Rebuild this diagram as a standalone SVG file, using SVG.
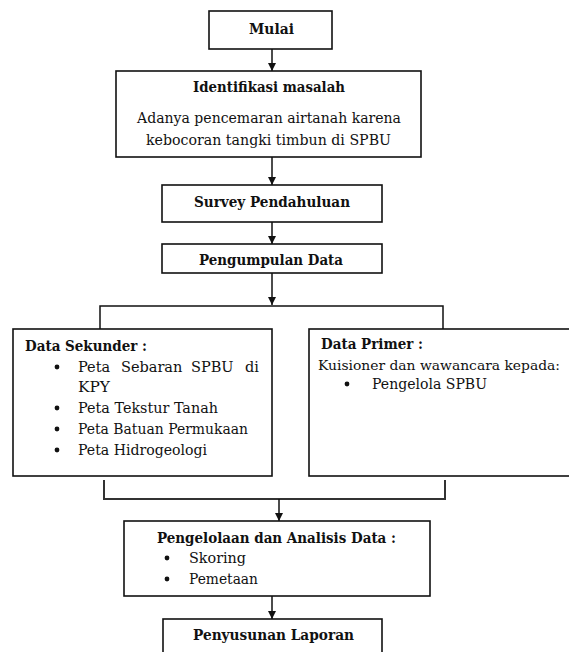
<svg xmlns="http://www.w3.org/2000/svg" width="569" height="652" viewBox="0 0 569 652">
<defs>
<style>
.box{fill:#fff;stroke:#111;stroke-width:1.6}
.ln{fill:none;stroke:#111;stroke-width:1.5}
.t{font-family:"DejaVu Serif","Liberation Serif",serif;font-size:14.5px;fill:#111}
.b{font-weight:bold}
.dot{fill:#111}
</style>
<marker id="ah" viewBox="0 0 10 10" refX="10" refY="5" markerWidth="8" markerHeight="8" markerUnits="userSpaceOnUse" orient="auto">
<path d="M0,0 L10,5 L0,10 z" fill="#111"/>
</marker>
</defs>
<rect width="569" height="652" fill="#fff"/>
<g id="connectors">
<line class="ln" x1="272" y1="49" x2="272" y2="71" marker-end="url(#ah)"/>
<line class="ln" x1="272" y1="157" x2="272" y2="185" marker-end="url(#ah)"/>
<line class="ln" x1="272" y1="222" x2="272" y2="244" marker-end="url(#ah)"/>
<line class="ln" x1="272" y1="273" x2="272" y2="305" marker-end="url(#ah)"/>
<polyline class="ln" points="100,329 100,306 443,306 443,329"/>
<polyline class="ln" points="104,480 104,499 445,499 445,480" style="stroke:#333;stroke-width:2"/>
<line class="ln" x1="279" y1="499" x2="279" y2="521" marker-end="url(#ah)"/>
<line class="ln" x1="272" y1="596" x2="272" y2="619" marker-end="url(#ah)"/>
</g>
<g id="mulai">
<rect class="box" x="209" y="11" width="123" height="38"/>
<text class="t b" x="249" y="34" textLength="45" lengthAdjust="spacingAndGlyphs">Mulai</text>
</g>
<g id="identifikasi">
<rect class="box" x="116" y="71" width="305" height="86"/>
<text class="t b" x="193" y="92" textLength="152" lengthAdjust="spacingAndGlyphs">Identifikasi masalah</text>
<text class="t" x="137" y="123" textLength="264" lengthAdjust="spacingAndGlyphs">Adanya pencemaran airtanah karena</text>
<text class="t" x="146" y="145" textLength="245" lengthAdjust="spacingAndGlyphs">kebocoran tangki timbun di SPBU</text>
</g>
<g id="survey">
<rect class="box" x="162" y="185" width="220" height="37"/>
<text class="t b" x="194" y="207" textLength="156" lengthAdjust="spacingAndGlyphs">Survey Pendahuluan</text>
</g>
<g id="pengumpulan">
<rect class="box" x="162" y="244" width="220" height="29"/>
<text class="t b" x="199" y="265" textLength="144" lengthAdjust="spacingAndGlyphs">Pengumpulan Data</text>
</g>
<g id="sekunder">
<rect class="box" x="13" y="329" width="259" height="147"/>
<text class="t b" x="25" y="351" textLength="122" lengthAdjust="spacingAndGlyphs">Data Sekunder :</text>
<circle class="dot" cx="57" cy="367" r="2.4"/>
<text class="t"><tspan x="78" y="372">Peta</tspan><tspan x="121" y="372">Sebaran</tspan><tspan x="191" y="372">SPBU</tspan><tspan x="245" y="372">di</tspan></text>
<text class="t" x="78" y="392" textLength="32" lengthAdjust="spacingAndGlyphs">KPY</text>
<circle class="dot" cx="57" cy="408" r="2.4"/>
<text class="t" x="78" y="413" textLength="140" lengthAdjust="spacingAndGlyphs">Peta Tekstur Tanah</text>
<circle class="dot" cx="57" cy="429" r="2.4"/>
<text class="t" x="78" y="434" textLength="170" lengthAdjust="spacingAndGlyphs">Peta Batuan Permukaan</text>
<circle class="dot" cx="57" cy="450" r="2.4"/>
<text class="t" x="78" y="455" textLength="129" lengthAdjust="spacingAndGlyphs">Peta Hidrogeologi</text>
</g>
<g id="primer">
<rect class="box" x="309" y="329" width="275" height="147"/>
<text class="t b" x="321" y="349" textLength="102" lengthAdjust="spacingAndGlyphs">Data Primer :</text>
<text class="t" x="318" y="370" style="font-size:12.5px" textLength="242" lengthAdjust="spacingAndGlyphs">Kuisioner dan wawancara kepada:</text>
<circle class="dot" cx="347" cy="384" r="2.4"/>
<text class="t" x="372" y="389" textLength="115" lengthAdjust="spacingAndGlyphs">Pengelola SPBU</text>
</g>
<g id="pengelolaan">
<rect class="box" x="124" y="521" width="306" height="75"/>
<text class="t b" x="157" y="543" textLength="239" lengthAdjust="spacingAndGlyphs">Pengelolaan dan Analisis Data :</text>
<circle class="dot" cx="167" cy="558" r="2.4"/>
<text class="t" x="189" y="563" textLength="57" lengthAdjust="spacingAndGlyphs">Skoring</text>
<circle class="dot" cx="167" cy="579" r="2.4"/>
<text class="t" x="189" y="584" textLength="69" lengthAdjust="spacingAndGlyphs">Pemetaan</text>
</g>
<g id="penyusunan">
<rect class="box" x="163" y="619" width="219" height="45"/>
<text class="t b" x="193" y="640" textLength="161" lengthAdjust="spacingAndGlyphs">Penyusunan Laporan</text>
</g>
</svg>
